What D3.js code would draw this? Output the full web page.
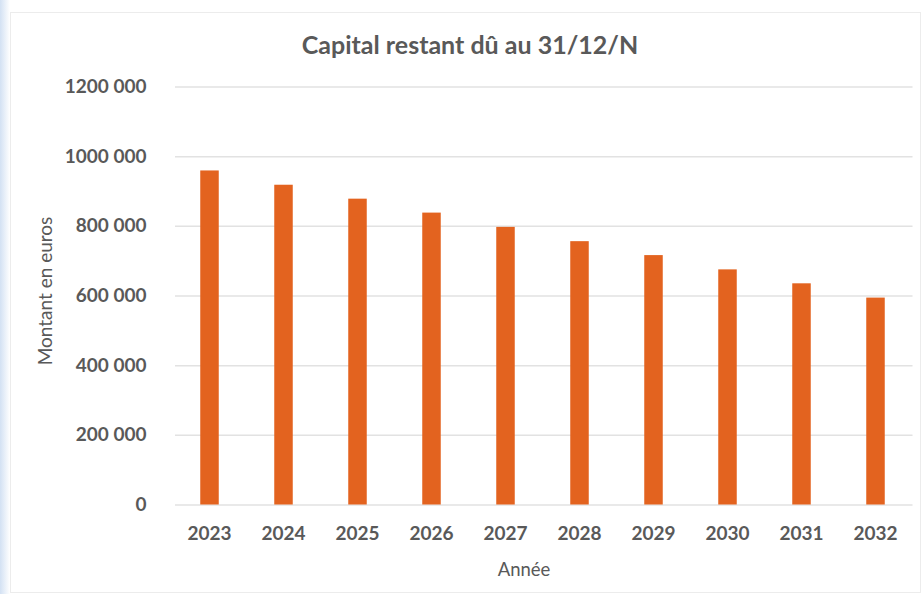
<!DOCTYPE html>
<html>
<head>
<meta charset="utf-8">
<script src="https://cdn.jsdelivr.net/npm/d3@7"></script>
<style>
  html, body { margin: 0; padding: 0; background: #ffffff; }
  svg { display: block; }
  text { font-family: Lato, "Open Sans", "DejaVu Sans", sans-serif; fill: #595959; }
</style>
</head>
<body>
<svg id="chart" width="924" height="594"></svg>
<script>
// Remaining principal at 31 December of each year
const years = ["2023", "2024", "2025", "2026", "2027", "2028", "2029", "2030", "2031", "2032"];
const capitalRestant = [959000, 918000, 878000, 838000, 797000, 756000, 716000, 675000, 635000, 594000];
const yTicks = [0, 200000, 400000, 600000, 800000, 1000000, 1200000];

const chartTitle = "Capital restant dû au 31/12/N";
const xTitle = "Année";
const yTitle = "Montant en euros";

const svg = d3.select("#chart");
const W = 924, H = 594;

// page background and a faint blue edge on the left
const defs = svg.append("defs");
const edge = defs.append("linearGradient").attr("id", "edge").attr("x1", 0).attr("x2", 1);
edge.append("stop").attr("offset", "0%").attr("stop-color", "#d3e1f3");
edge.append("stop").attr("offset", "100%").attr("stop-color", "#ffffff");
svg.append("rect").attr("width", W).attr("height", H).attr("fill", "#ffffff");
svg.append("rect").attr("x", 0).attr("y", 0).attr("width", 10).attr("height", H).attr("fill", "url(#edge)");
// chart frame
svg.append("rect").attr("x", 10.5).attr("y", 12.5).attr("width", W - 14).attr("height", H - 14)
  .attr("fill", "none").attr("stroke", "#ececec").attr("stroke-width", 1);

const plot = { left: 172.5, right: 912.5, top: 86.5, bottom: 504.5 };

const x = d3.scaleBand()
  .domain(years)
  .range([plot.left, plot.right])
  .paddingInner(0.75)
  .paddingOuter(0.375);

const y = d3.scaleLinear()
  .domain([0, 1200000])
  .range([plot.bottom, plot.top]);

const fmt = v => d3.format(",")(v).replace(/,/g, " ").replace(/^1 200 000$/, "1200 000").replace(/^1 000 000$/, "1000 000");

// horizontal gridlines
const yAxis = d3.axisLeft(y).tickValues(yTicks).tickSize(0).tickPadding(26).tickFormat(fmt);
const gy = svg.append("g").attr("transform", `translate(${plot.left},0)`).call(yAxis);
gy.select(".domain").remove();
gy.selectAll(".tick line").clone()
  .attr("x1", 2.5).attr("x2", plot.right - plot.left)
  .attr("stroke", "#e2e2e2").attr("stroke-width", 1.5);
gy.selectAll(".tick text")
  .attr("font-size", 19).attr("font-weight", 700).attr("fill", "#595959")
  .style("font-family", "Lato, sans-serif");

// bars
svg.append("g").selectAll("rect")
  .data(years.map((yr, i) => ({ yr, v: capitalRestant[i] })))
  .join("rect")
  .attr("x", d => x(d.yr))
  .attr("y", d => y(d.v))
  .attr("width", x.bandwidth())
  .attr("height", d => y(0) - y(d.v))
  .attr("fill", "#e3631f");

// category axis
const xAxis = d3.axisBottom(x).tickSize(0).tickPadding(22);
const gx = svg.append("g").attr("transform", `translate(0,${plot.bottom})`).call(xAxis);
gx.select(".domain").remove();
gx.selectAll(".tick text")
  .attr("font-size", 19).attr("font-weight", 700).attr("fill", "#595959")
  .style("font-family", "Lato, sans-serif");

// titles
svg.append("text")
  .attr("x", 470).attr("y", 54)
  .attr("text-anchor", "middle")
  .attr("font-size", 25).attr("font-weight", 700)
  .text(chartTitle);

svg.append("text")
  .attr("x", 524).attr("y", 576)
  .attr("text-anchor", "middle")
  .attr("font-size", 18.5)
  .text(xTitle);

svg.append("text")
  .attr("transform", "translate(52,291) rotate(-90)")
  .attr("text-anchor", "middle")
  .attr("font-size", 19)
  .text(yTitle);
</script>
</body>
</html>
